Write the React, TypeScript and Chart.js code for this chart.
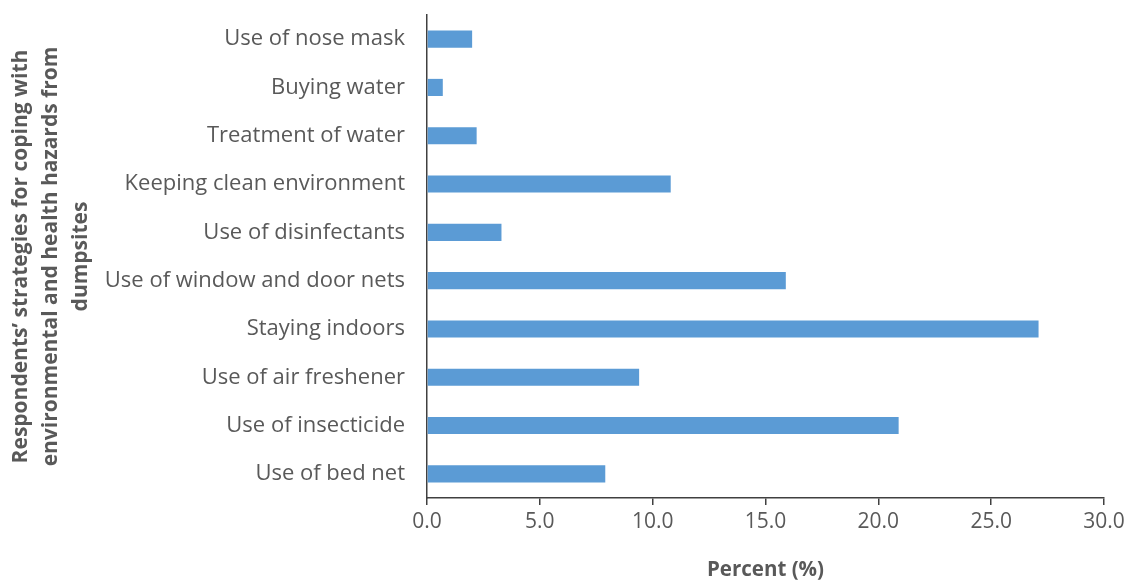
import React, { useEffect, useRef } from "react";
import { Chart, registerables } from "chart.js";

Chart.register(...registerables);

const categories = [
  "Use of nose mask",
  "Buying water",
  "Treatment of water",
  "Keeping clean environment",
  "Use of disinfectants",
  "Use of window and door nets",
  "Staying indoors",
  "Use of air freshener",
  "Use of insecticide",
  "Use of bed net",
];

const percentValues = [2.0, 0.7, 2.2, 10.8, 3.3, 15.9, 27.1, 9.4, 20.9, 7.9];

const xTickValues = [0, 5, 10, 15, 20, 25, 30];

const yTitleLines = [
  "Respondents’ strategies for coping with",
  "environmental and health hazards from",
  "dumpsites",
];

const xTitle = "Percent (%)";

const FONT = "'Open Sans', 'Liberation Sans', sans-serif";
const TEXT = "#595959";
const AXIS = "#404040";

export default function App() {
  const canvasRef = useRef<HTMLCanvasElement | null>(null);

  useEffect(() => {
    if (!canvasRef.current) return;
    const chart = new Chart(canvasRef.current, {
      type: "bar",
      data: {
        labels: categories,
        datasets: [
          {
            data: percentValues,
            backgroundColor: "#5B9BD5",
            borderWidth: 0,
            barPercentage: 0.355,
            categoryPercentage: 1,
          },
        ],
      },
      options: {
        indexAxis: "y",
        animation: false,
        responsive: false,
        maintainAspectRatio: false,
        layout: { padding: { top: 15, right: 27, left: 0, bottom: 0 } },
        plugins: {
          legend: { display: false },
          tooltip: { enabled: false },
        },
        scales: {
          x: {
            min: 0,
            max: 30,
            afterBuildTicks: (scale: any) => {
              scale.ticks = xTickValues.map((v) => ({ value: v }));
            },
            afterFit: (scale: any) => {
              scale.height = 84;
              scale.paddingLeft = 0;
              scale.paddingRight = 0;
            },
            grid: {
              display: true,
              drawOnChartArea: false,
              drawTicks: true,
              tickLength: 7,
              color: AXIS,
              lineWidth: 1.5,
            },
            border: { display: true, color: AXIS, width: 1.5 },
            ticks: {
              color: TEXT,
              padding: 4,
              font: { family: FONT, size: 21 },
              callback: (v: any) => Number(v).toFixed(1),
            },
            title: {
              display: true,
              text: xTitle,
              color: TEXT,
              padding: { top: 10, bottom: 0 },
              font: { family: FONT, size: 20.5, weight: "bold" },
            },
          },
          y: {
            afterFit: (scale: any) => {
              scale.width = 427;
              scale.paddingTop = 0;
              scale.paddingBottom = 0;
            },
            grid: { display: false, drawTicks: false },
            border: { display: true, color: AXIS, width: 1.5 },
            ticks: {
              color: TEXT,
              padding: 22,
              font: { family: FONT, size: 22 },
            },
            title: {
              display: true,
              text: yTitleLines,
              color: TEXT,
              padding: { top: 6, bottom: 0 },
              font: { family: FONT, size: 21, weight: "bold", lineHeight: 1.43 },
            },
          },
        },
      },
    });
    return () => chart.destroy();
  }, []);

  return (
    <div style={{ position: "fixed", left: 0, top: 0, width: 1131, height: 582, background: "#fff" }}>
      <canvas ref={canvasRef} width={1131} height={582} />
    </div>
  );
}
